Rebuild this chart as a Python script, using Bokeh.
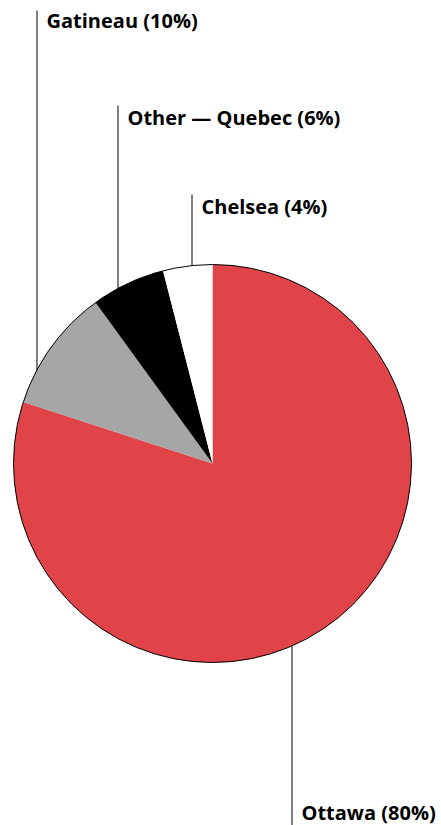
import math
from bokeh.plotting import figure
from bokeh.models import Range1d
from bokeh.core.properties import value
from bokeh.embed import file_html
from bokeh.resources import INLINE

# ---- data ----
categories = ["Ottawa", "Gatineau", "Other \u2014 Quebec", "Chelsea"]
shares = [80, 10, 6, 4]
colors = ["#E04448", "#A6A6A6", "#000000", "#FFFFFF"]

# ---- layout (pixels, image coords with y downward) ----
W, H = 441, 825
CX, CY, R = 212, 463, 199
label_line_x = [291, 36, 117, 191]
label_line_far = [825, 10, 105, 194]     # far end of leader line (image y)
label_text_y = [812, 20, 117, 206]       # text vertical centre (image y)

def fy(y):
    return H - y

p = figure(width=W, height=H, output_backend="svg", toolbar_location=None,
           x_range=Range1d(0, W), y_range=Range1d(0, H), min_border=0)
p.axis.visible = False
p.grid.visible = False
p.outline_line_color = None
p.background_fill_color = "white"

total = sum(shares)
start = math.pi / 2
starts, ends = [], []
for s in shares:
    end = start - 2 * math.pi * s / total
    starts.append(start)
    ends.append(end)
    start = end

p.wedge(x=[CX] * len(shares), y=[fy(CY)] * len(shares), radius=R,
        start_angle=starts, end_angle=ends, direction="clock",
        fill_color=colors, line_color=None)
p.circle(x=[CX], y=[fy(CY)], radius=R, fill_color=None, line_color="black", line_width=1)

for i, cat in enumerate(categories):
    lx = label_line_x[i]
    dx = lx - CX
    dy = math.sqrt(max(R * R - dx * dx, 0))
    far = label_line_far[i]
    edge = CY + dy if far > CY else CY - dy
    p.line(x=[lx + 0.5, lx + 0.5], y=[fy(edge), fy(far)], line_color="black", line_width=1)
    p.text(x=[lx + 10], y=[fy(label_text_y[i])], text=[f"{cat} ({shares[i]}%)"],
           text_font=value("Open Sans"), text_font_style="bold", text_font_size="20px",
           text_baseline="middle", text_align="left", text_color="black")

open("out.html", "w").write(file_html(p, INLINE))
